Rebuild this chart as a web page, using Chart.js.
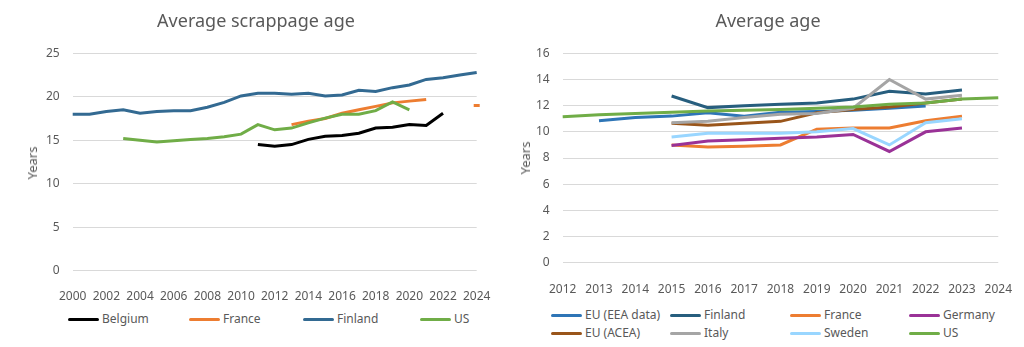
<!DOCTYPE html>
<html>
<head>
<meta charset="utf-8">
<script src="https://cdn.jsdelivr.net/npm/chart.js@4.4.1/dist/chart.umd.js"></script>
<style>
  body { margin: 0; background: #fff; font-family: "Noto Sans", sans-serif; color: #595959; }
  #page { position: relative; width: 1024px; height: 347px; overflow: hidden; }
  canvas { position: absolute; top: 0; }
  .title { position: absolute; top: 8px; font-size: 18px; text-align: center; white-space: nowrap; }
  .ytitle { position: absolute; font-size: 13px; transform: translate(-50%, -50%) rotate(-90deg); white-space: nowrap; }
  .item { position: absolute; font-size: 12px; white-space: nowrap; line-height: 14px; }
  .item span.swatch { position: absolute; top: 6px; height: 3px; border-radius: 2px; }
</style>
</head>
<body>
<div id="page">
  <canvas id="scrapChart" width="512" height="300" style="left:0;width:512px;height:300px"></canvas>
  <canvas id="ageChart" width="512" height="300" style="left:512px;width:512px;height:300px"></canvas>
  <div class="title" style="left:0;width:512px">Average scrappage age</div>
  <div class="title" style="left:512px;width:512px">Average age</div>
  <div class="ytitle" style="left:32px;top:163px">Years</div>
  <div class="ytitle" style="left:525px;top:158px">Years</div>
  <div id="legends"></div>
</div>
<script>
// left chart: average scrappage age
const scrapYears = ["2000", "2001", "2002", "2003", "2004", "2005", "2006", "2007", "2008", "2009", "2010", "2011", "2012",
  "2013", "2014", "2015", "2016", "2017", "2018", "2019", "2020", "2021", "2022", "2023", "2024"]
const scrapBelgium = [null, null, null, null, null, null, null, null, null, null, null, 14.5, 14.3,
  14.5, 15.1, 15.45, 15.55, 15.8, 16.4, 16.5, 16.8, 16.7, 18.1, null, null]
const scrapFrance = [null, null, null, null, null, null, null, null, null, null, null, null, null,
  16.8, 17.2, 17.5, 18.1, 18.5, 18.9, 19.3, 19.5, 19.7, null, null, 19.0]
const scrapFinland = [18.0, 18.0, 18.3, 18.5, 18.1, 18.3, 18.4, 18.4, 18.8, 19.35, 20.1, 20.4, 20.4,
  20.3, 20.4, 20.1, 20.2, 20.75, 20.6, 21.05, 21.35, 22.0, 22.2, 22.5, 22.8]
const scrapUs = [null, null, null, 15.2, 15.0, 14.8, 14.95, 15.1, 15.2, 15.4, 15.7, 16.8, 16.2,
  16.4, 17.0, 17.55, 18.0, 18.0, 18.4, 19.4, 18.5, null, null, null, null]

// right chart: average age
const ageYears = ["2012", "2013", "2014", "2015", "2016", "2017", "2018", "2019", "2020", "2021", "2022", "2023", "2024"]
const ageEuEea = [null, 10.85, 11.1, 11.2, 11.45, 11.2, 11.5, 11.55, 11.65, 11.8, 11.97, null, null]
const ageFinland = [null, null, null, 12.74, 11.85, 12.0, 12.1, 12.2, 12.5, 13.1, 12.9, 13.2, null]
const ageFrance = [null, null, null, 9.0, 8.85, 8.9, 9.0, 10.2, 10.3, 10.3, 10.85, 11.2, null]
const ageGermany = [null, null, null, 8.95, 9.3, 9.4, 9.5, 9.6, 9.8, 8.5, 10.0, 10.3, null]
const ageEuAcea = [null, null, null, 10.65, 10.5, 10.65, 10.8, 11.45, 11.7, 11.9, 12.2, 12.5, null]
const ageItaly = [null, null, null, 10.7, 10.8, 11.1, 11.35, 11.4, 11.8, 14.0, 12.5, 12.8, null]
const ageSweden = [null, null, null, 9.6, 9.9, 9.9, 9.9, 10.0, 10.25, 9.0, 10.7, 11.0, null]
const ageUs = [11.15, 11.3, 11.4, 11.5, 11.6, 11.65, 11.7, 11.8, 11.9, 12.1, 12.2, 12.5, 12.6]

Chart.defaults.font.family = "'Noto Sans', sans-serif"
Chart.defaults.font.size = 12
Chart.defaults.color = "#595959"

function lineSet(label, data, color, index, total) {
  return {
    label,
    data,
    borderColor: color,
    backgroundColor: color,
    borderWidth: 3,
    tension: 0,
    spanGaps: false,
    pointRadius: 0,
    pointHoverRadius: 0,
    order: total - index
  }
}

function buildChart(id, labels, series, opts) {
  const datasets = series.map((s, i) => lineSet(s[0], s[1], s[2], i, series.length))
  return new Chart(document.getElementById(id), {
    type: "line",
    data: { labels, datasets },
    options: {
      responsive: false,
      animation: false,
      events: [],
      layout: { padding: { top: opts.top, right: opts.right, left: 0, bottom: 0 } },
      plugins: { legend: { display: false }, tooltip: { enabled: false } },
      scales: {
        x: {
          offset: false,
          grid: { display: false },
          border: { display: false },
          ticks: {
            autoSkip: false,
            maxRotation: 0,
            padding: opts.xPad,
            callback: (value, index) => (index % opts.every === 0 ? labels[index] : null)
          },
          afterFit: (scale) => { scale.height = 300 - opts.bottom }
        },
        y: {
          min: 0,
          max: opts.max,
          ticks: { stepSize: opts.step, padding: 13 },
          grid: { color: "#D9D9D9", lineWidth: 1, drawTicks: false },
          border: { display: false },
          afterFit: (scale) => { scale.width = opts.left }
        }
      }
    }
  })
}

const scrapSeries = [
  ["Belgium", scrapBelgium, "#000000"],
  ["France", scrapFrance, "#ED7D31"],
  ["Finland", scrapFinland, "#336A92"],
  ["US", scrapUs, "#70AD47"]
]
const scrap = buildChart("scrapChart", scrapYears, scrapSeries,
  { top: 53.3, right: 35.3, left: 72.7, bottom: 270.7, max: 25, step: 5, every: 2, xPad: 11 })
// France has a single isolated 2024 value, shown as a short dash
const fr = scrap.data.datasets[1]
fr.pointStyle = "line"
fr.pointRadius = scrapFrance.map((v, i) => (i === scrapFrance.length - 1 ? 3 : 0))
fr.pointBorderWidth = 3
fr.pointBorderColor = "#ED7D31"
scrap.update()

const ageSeries = [
  ["EU (EEA data)", ageEuEea, "#2E75B6"],
  ["Finland", ageFinland, "#275E7E"],
  ["France", ageFrance, "#ED7D31"],
  ["Germany", ageGermany, "#9A3297"],
  ["EU (ACEA)", ageEuAcea, "#99551A"],
  ["Italy", ageItaly, "#A5A5A5"],
  ["Sweden", ageSweden, "#99D6FF"],
  ["US", ageUs, "#70AD47"]
]
buildChart("ageChart", ageYears, ageSeries,
  { top: 53.3, right: 24.7, left: 50.7, bottom: 262.7, max: 16, step: 2, every: 1, xPad: 12 })

// legends
const legendBox = document.getElementById("legends")
function addItem(label, color, x, y) {
  const el = document.createElement("div")
  el.className = "item"
  el.style.left = x + "px"
  el.style.top = (y - 7) + "px"
  el.style.paddingLeft = "34px"
  el.innerHTML = '<span class="swatch" style="left:0;width:31px;background:' + color + '"></span>'
  el.appendChild(document.createTextNode(label))
  legendBox.appendChild(el)
}
const scrapLegendX = [68, 189, 303, 420]
scrapSeries.forEach((s, i) => addItem(s[0], s[2], scrapLegendX[i], 319))
const ageLegendX = [551, 670, 790, 909]
ageSeries.forEach((s, i) => addItem(s[0], s[2], ageLegendX[i % 4], i < 4 ? 315 : 333))
</script>
</body>
</html>
